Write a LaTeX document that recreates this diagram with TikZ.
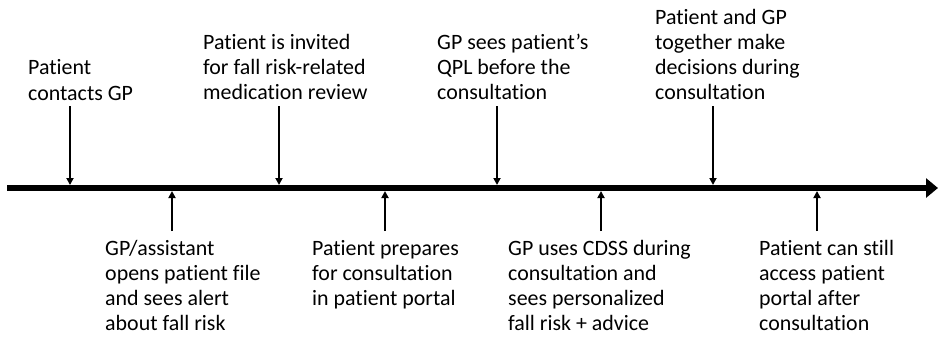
\documentclass[tikz,border=0pt]{standalone}
\usepackage{fontspec}
\setmainfont{Carlito}[Ligatures={NoCommon}]
\usetikzlibrary{arrows.meta}
\begin{document}
\begin{tikzpicture}[x=1bp,y=-1bp,
  lbl/.style={anchor=north west,inner sep=0pt,align=left,
    font=\fontsize{22}{25.3}\selectfont},
  evarrow/.style={line width=1.8bp,-{Triangle[length=7bp,width=7bp]}},
  axis/.style={line width=6bp,-{Triangle[length=12bp,width=19bp]}}]
\useasboundingbox (0,0) rectangle (939,337);
% timeline
\coordinate (tstart) at (7,188);
\coordinate (tend) at (938,188);
\draw[axis] (tstart) -- (tend);
\coordinate (ltop) at (0,185);
\coordinate (lbot) at (0,191);
% top labels (strut gives fixed first baseline = top + 17.71)
\node[lbl] (t1) at (28,74.7-17.71) {\strut Patient\\contacts GP};
\node[lbl] (t2) at (203,49.4-17.71) {\strut Patient is invited\\for fall risk-related\\medication review};
\node[lbl] (t3) at (437,49.4-17.71) {\strut GP sees patient’s\\QPL before the\\consultation};
\node[lbl] (t4) at (655,24.1-17.71) {\strut Patient and GP\\together make\\decisions during\\consultation};
% bottom labels
\node[lbl] (b1) at (105,255-17.71) {\strut GP/assistant\\opens patient file\\and sees alert\\about fall risk};
\node[lbl] (b2) at (312,255-17.71) {\strut Patient prepares\\for consultation\\in patient portal};
\node[lbl] (b3) at (508,255-17.71) {\strut GP uses CDSS during\\consultation and\\sees personalized\\fall risk + advice};
\node[lbl] (b4) at (759,255-17.71) {\strut Patient can still\\access patient\\portal after\\consultation};
% down arrows
\foreach \n/\x in {d1/70,d2/279,d3/497,d4/713}{
  \coordinate (\n) at (\x,106);
  \draw[evarrow] (\n) -- (\n |- ltop);
}
% up arrows
\foreach \n/\x in {u1/172,u2/385,u3/601,u4/817}{
  \coordinate (\n) at (\x,231);
  \draw[evarrow] (\n) -- (\n |- lbot);
}
\end{tikzpicture}
\end{document}
